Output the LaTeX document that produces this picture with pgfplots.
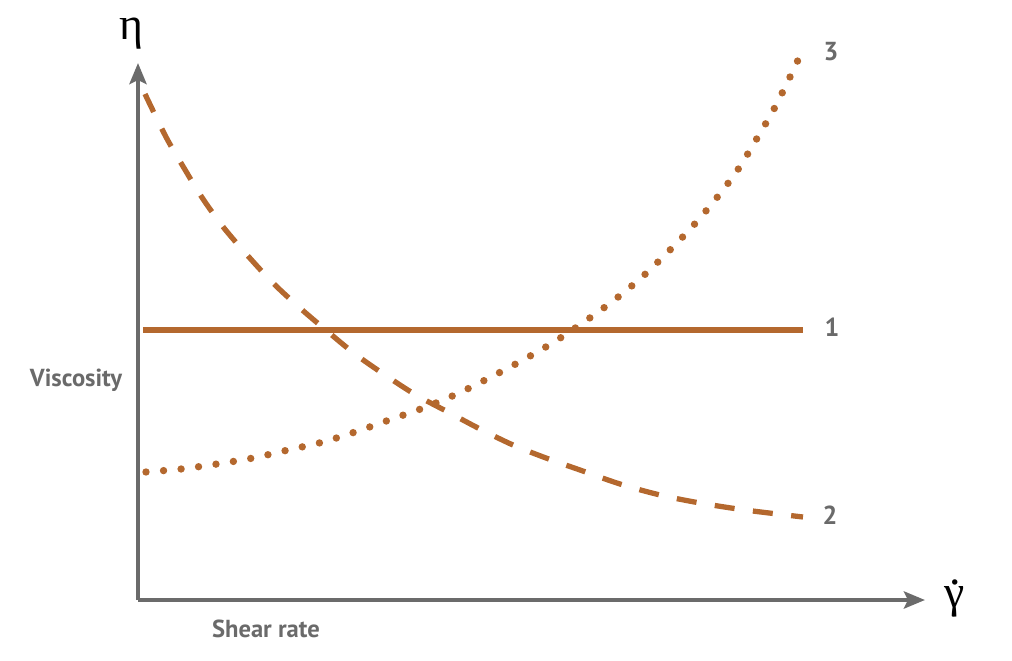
\documentclass[border=0pt]{standalone}
\usepackage{pgfplots}
\pgfplotsset{compat=1.18}
\usepackage{fontspec}
\setmainfont{PT Sans}
\newfontfamily\greekfont{Liberation Serif}
\usetikzlibrary{arrows.meta}
\definecolor{curve}{HTML}{B4682E}
\definecolor{axgray}{HTML}{6B6B6B}
\definecolor{txtgray}{HTML}{6A6A6A}
\begin{document}
\begin{tikzpicture}
\begin{axis}[
  x=0.01cm, y=0.01cm,
  xmin=138, xmax=925, ymin=60, ymax=597,
  axis lines=left,
  axis line style={axgray, line width=1.4pt, -{Stealth[length=0.21cm,width=0.17cm,inset=0.04cm]}},
  xtick=\empty, ytick=\empty,
  clip=false,
]
\path[use as bounding box] (axis cs:0,0) rectangle (axis cs:1012,660);
% 1: constant
\addplot[curve, line width=1.5pt] coordinates {(143,330) (803,330)};
% 2: shear thinning (dashed)
\addplot[curve, line width=1.5pt, dash pattern=on 0.2cm off 0.185cm, smooth] coordinates {
(145,566) (166,523) (184,492) (203,461) (224,432) (248,404) (273,377)
(300,352) (327,329) (355,306) (385,285) (416,265) (448,248) (480,231)
(513,215) (546,202) (580,190) (620,176) (660,165) (700,157) (745,150) (803,143)};
% 3: shear thickening (dotted)
\addplot[curve, line width=2.1pt, line cap=round, dash pattern=on 0pt off 0.176cm, smooth] coordinates {
(146,188) (181,191) (217,196) (253,202) (288,210) (323,218) (358,229)
(392,241) (426,253) (459,267) (491,283) (523,300) (554,318) (584,338)
(613,359) (641,382) (667,407) (692,433) (715,460) (737,489) (756,520)
(774,551) (790,583) (798,600)};
\node[txtgray, font=\fontsize{7.4}{8}\selectfont\bfseries] at (axis cs:832,333) {1};
\node[txtgray, font=\fontsize{7.4}{8}\selectfont\bfseries] at (axis cs:830,145) {2};
\node[txtgray, font=\fontsize{7.4}{8}\selectfont\bfseries] at (axis cs:831,608) {3};
\node[txtgray, font=\fontsize{7}{8}\selectfont\bfseries] at (axis cs:76,280) {Viscosity};
\node[txtgray, font=\fontsize{7}{8}\selectfont\bfseries] at (axis cs:266,31) {Shear rate};
\node[black, font=\fontsize{13}{14}\selectfont\greekfont] at (axis cs:131,626) {η};
\node[black, font=\fontsize{13}{14}\selectfont\greekfont, anchor=base] at (axis cs:955,53) {\ooalign{γ\cr\hfil\raisebox{0.5em}{.}\hfil\cr}};
\end{axis}
\end{tikzpicture}
\end{document}
